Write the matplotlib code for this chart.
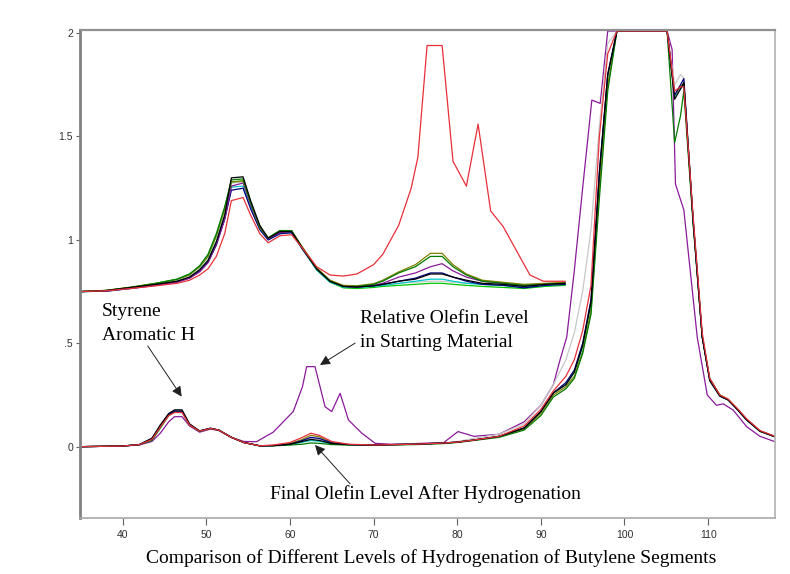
import numpy as np
import matplotlib
matplotlib.use('Agg')
import matplotlib.pyplot as plt

# lower traces (common x grid)
x_low = [35, 40, 42, 43.5, 44.5, 45.5, 46.2, 47.1, 48, 49.2,
         50.5, 51.5, 53, 54.5, 56.4, 58, 60, 61.5, 62.5, 63.5,
         65, 67, 70, 75, 78.5, 80, 82, 85, 88, 90,
         91.5, 93, 94, 95, 96, 97, 98, 99.1, 105.1, 106,
         106.7, 107.1, 108.2, 109.3, 110.2, 111.4, 112.4, 113.5, 114.6, 116.2,
         118]
black_low = [0, 0.003, 0.01, 0.04, 0.105, 0.16, 0.178, 0.178, 0.11, 0.076,
             0.089, 0.08, 0.045, 0.02, 0.004, 0.005, 0.012, 0.025, 0.035, 0.03,
             0.015, 0.01, 0.008, 0.012, 0.018, 0.022, 0.032, 0.05, 0.09, 0.17,
             0.26, 0.30, 0.36, 0.49, 0.70, 1.32, 1.80, 2.01, 2.01, 1.68,
             1.73, 1.76, 1.10, 0.53, 0.32, 0.245, 0.226, 0.18, 0.13, 0.075,
             0.048]
red_low = [0, 0.003, 0.01, 0.035, 0.095, 0.15, 0.165, 0.165, 0.105, 0.075,
           0.088, 0.08, 0.045, 0.02, 0.004, 0.008, 0.02, 0.045, 0.065, 0.055,
           0.025, 0.012, 0.008, 0.012, 0.018, 0.022, 0.032, 0.05, 0.1, 0.18,
           0.27, 0.34, 0.42, 0.56, 0.78, 1.5, 1.9, 2.01, 2.01, 1.72,
           1.74, 1.74, 1.12, 0.55, 0.33, 0.25, 0.23, 0.185, 0.135, 0.078,
           0.05]
green_low = [0, 0.003, 0.01, 0.03, 0.09, 0.15, 0.168, 0.168, 0.105, 0.074,
             0.088, 0.08, 0.045, 0.02, 0.004, 0.004, 0.008, 0.012, 0.018, 0.016,
             0.01, 0.008, 0.007, 0.01, 0.015, 0.02, 0.03, 0.045, 0.08, 0.15,
             0.24, 0.28, 0.33, 0.45, 0.64, 1.2, 1.72, 2.01, 2.01, 1.47,
             1.6, 1.72, 1.08, 0.53, 0.33, 0.25, 0.228, 0.18, 0.13, 0.074,
             0.048]
navy_low = [0, 0.003, 0.01, 0.04, 0.1, 0.155, 0.172, 0.172, 0.108, 0.076,
            0.089, 0.08, 0.045, 0.02, 0.004, 0.005, 0.012, 0.03, 0.045, 0.04,
            0.018, 0.01, 0.008, 0.012, 0.018, 0.022, 0.032, 0.05, 0.09, 0.17,
            0.26, 0.31, 0.37, 0.5, 0.71, 1.33, 1.8, 2.01, 2.01, 1.7,
            1.75, 1.78, 1.1, 0.53, 0.32, 0.245, 0.226, 0.18, 0.13, 0.075,
            0.048]
cyan_low = [0, 0.003, 0.01, 0.038, 0.1, 0.155, 0.17, 0.17, 0.106, 0.075,
            0.088, 0.08, 0.045, 0.02, 0.004, 0.005, 0.01, 0.022, 0.03, 0.026,
            0.014, 0.009, 0.008, 0.012, 0.018, 0.022, 0.032, 0.05, 0.09, 0.17,
            0.26, 0.30, 0.36, 0.48, 0.69, 1.3, 1.79, 2.01, 2.01, 1.69,
            1.73, 1.75, 1.1, 0.53, 0.32, 0.245, 0.226, 0.18, 0.13, 0.075,
            0.048]
gray_low = [0, 0.003, 0.01, 0.04, 0.1, 0.158, 0.175, 0.175, 0.108, 0.076,
            0.089, 0.08, 0.045, 0.02, 0.004, 0.006, 0.014, 0.03, 0.04, 0.035,
            0.016, 0.01, 0.008, 0.012, 0.018, 0.025, 0.04, 0.06, 0.11, 0.2,
            0.3, 0.42, 0.55, 0.75, 1.05, 1.55, 1.95, 2.01, 2.01, 1.75,
            1.8, 1.78, 1.12, 0.54, 0.32, 0.245, 0.226, 0.18, 0.13, 0.075,
            0.048]
olive_low = [0, 0.003, 0.01, 0.035, 0.095, 0.152, 0.17, 0.17, 0.106, 0.075,
             0.088, 0.08, 0.045, 0.02, 0.004, 0.006, 0.015, 0.035, 0.055, 0.048,
             0.02, 0.01, 0.008, 0.012, 0.017, 0.022, 0.032, 0.048, 0.085, 0.16,
             0.25, 0.29, 0.34, 0.46, 0.66, 1.25, 1.75, 2.01, 2.01, 1.7,
             1.74, 1.76, 1.1, 0.53, 0.325, 0.25, 0.228, 0.182, 0.132, 0.076,
             0.05]

# lower purple trace = starting material (olefin peaks)
x_start_low = [35, 40, 42, 43.5, 44.5, 45.5, 46.2, 47.1, 48, 49.2,
               50.5, 51.5, 53, 54.5, 56, 58, 60.4, 61.5, 62, 63,
               64.2, 65, 66, 67, 68.6, 70.2, 72, 75, 78.4, 80.1,
               82, 85, 88, 90, 91.5, 92.3, 93.1, 94, 95, 96.1,
               97.1, 98, 105.1, 105.7, 106.1, 107.1, 108.7, 109.9, 111, 111.8,
               113, 114.6, 116.2, 118]
start_low = [0, 0.003, 0.008, 0.025, 0.065, 0.12, 0.145, 0.145, 0.1, 0.07,
             0.085, 0.078, 0.045, 0.025, 0.024, 0.07, 0.17, 0.29, 0.387, 0.387,
             0.193, 0.17, 0.258, 0.129, 0.065, 0.016, 0.012, 0.015, 0.02, 0.073,
             0.05, 0.06, 0.12, 0.2, 0.3, 0.42, 0.53, 0.85, 1.25, 1.676,
             1.66, 2.01, 2.01, 1.92, 1.27, 1.145, 0.53, 0.25, 0.2, 0.207,
             0.177, 0.097, 0.05, 0.024]

# upper traces (offset copies, stop at ~93)
x_up = [35, 38, 41, 44, 46.5, 48, 49.2, 50.2, 51.2, 52.2,
        53, 54.4, 55.3, 56.4, 57.4, 58.8, 60.2, 61.5, 63.2, 64.8,
        66.4, 68, 70, 71.1, 73, 75, 76.8, 78.2, 79.5, 81.1,
        83, 85.5, 88, 90.5, 92.9]
black_up = [0.75, 0.755, 0.77, 0.785, 0.80, 0.82, 0.855, 0.90, 0.99, 1.12,
            1.30, 1.305, 1.19, 1.07, 1.008, 1.04, 1.04, 0.96, 0.86, 0.80,
            0.775, 0.772, 0.778, 0.785, 0.80, 0.81, 0.835, 0.835, 0.82, 0.805,
            0.79, 0.785, 0.775, 0.785, 0.79]
green_up = [0.75, 0.755, 0.77, 0.79, 0.81, 0.835, 0.875, 0.93, 1.03, 1.16,
            1.29, 1.295, 1.18, 1.065, 1.01, 1.045, 1.045, 0.96, 0.86, 0.80,
            0.775, 0.775, 0.785, 0.80, 0.84, 0.87, 0.92, 0.92, 0.87, 0.83,
            0.80, 0.79, 0.78, 0.785, 0.79]
olive_up = [0.75, 0.756, 0.772, 0.79, 0.808, 0.83, 0.87, 0.92, 1.02, 1.15,
            1.28, 1.285, 1.18, 1.06, 1.01, 1.045, 1.045, 0.965, 0.865, 0.805,
            0.78, 0.778, 0.788, 0.805, 0.845, 0.88, 0.935, 0.935, 0.88, 0.835,
            0.805, 0.795, 0.785, 0.79, 0.795]
purple_up = [0.75, 0.752, 0.765, 0.78, 0.795, 0.815, 0.845, 0.89, 0.98, 1.10,
             1.26, 1.275, 1.17, 1.06, 1.005, 1.035, 1.04, 0.96, 0.86, 0.80,
             0.775, 0.772, 0.78, 0.79, 0.82, 0.84, 0.87, 0.885, 0.85, 0.82,
             0.80, 0.79, 0.78, 0.785, 0.79]
cyan_up = [0.75, 0.752, 0.765, 0.782, 0.80, 0.82, 0.855, 0.90, 0.99, 1.11,
           1.255, 1.26, 1.16, 1.05, 1.0, 1.03, 1.035, 0.955, 0.855, 0.795,
           0.772, 0.77, 0.775, 0.78, 0.79, 0.80, 0.81, 0.81, 0.80, 0.79,
           0.785, 0.78, 0.772, 0.78, 0.785]
lime_up = [0.75, 0.755, 0.77, 0.79, 0.81, 0.835, 0.87, 0.92, 1.02, 1.15,
           1.28, 1.285, 1.175, 1.06, 1.005, 1.04, 1.04, 0.96, 0.855, 0.795,
           0.768, 0.765, 0.77, 0.775, 0.78, 0.785, 0.79, 0.79, 0.785, 0.78,
           0.775, 0.77, 0.765, 0.775, 0.78]
navy_up = [0.75, 0.752, 0.766, 0.782, 0.798, 0.815, 0.848, 0.89, 0.975, 1.10,
           1.24, 1.25, 1.15, 1.05, 1.0, 1.03, 1.035, 0.955, 0.86, 0.80,
           0.775, 0.772, 0.778, 0.785, 0.80, 0.815, 0.84, 0.84, 0.82, 0.80,
           0.785, 0.78, 0.768, 0.78, 0.785]
gray_up = [0.75, 0.755, 0.77, 0.785, 0.80, 0.822, 0.858, 0.905, 0.995, 1.125,
           1.275, 1.28, 1.17, 1.06, 1.0, 1.03, 1.035, 0.955, 0.855, 0.80,
           0.775, 0.772, 0.776, 0.78, 0.79, 0.795, 0.80, 0.80, 0.795, 0.79,
           0.785, 0.78, 0.772, 0.78, 0.785]

# upper red trace = starting material
x_start_up = [35, 38, 41, 44, 46.5, 48, 49.2, 50.2, 51.2, 52.2,
              53, 54.4, 55.3, 56.4, 57.4, 58.8, 60.2, 61.5, 63.2, 64.8,
              66.4, 68, 70, 71.1, 73, 74.5, 75.3, 76.4, 78.2, 79.5,
              81.1, 82.5, 84, 85.5, 88.7, 90.3, 92.9]
start_up = [0.75, 0.754, 0.765, 0.778, 0.79, 0.805, 0.83, 0.86, 0.92, 1.03,
            1.19, 1.205, 1.12, 1.03, 0.986, 1.02, 1.025, 0.96, 0.87, 0.83,
            0.825, 0.835, 0.88, 0.93, 1.07, 1.25, 1.40, 1.94, 1.94, 1.38,
            1.26, 1.56, 1.14, 1.064, 0.83, 0.80, 0.80]

y_ticks = [0, 0.5, 1, 1.5, 2]
y_ticklabels = ['0', '.5', '1', '1.5', '2']
x_ticks = [40, 50, 60, 70, 80, 90, 100, 110]

fig = plt.figure(figsize=(7.9, 5.74), dpi=100)
ax = fig.add_axes([80/790, 1-518/574, 695/790, 488/574])

lw = 0.9
up_series = [(gray_up, '#c8c8c8'), (lime_up, '#00c800'), (cyan_up, '#00c8c8'),
             (navy_up, '#000080'), (purple_up, '#8a1a9a'), (olive_up, '#808000'),
             (green_up, '#007a00'), (black_up, '#000000')]
for ys, c in up_series:
    ax.plot(x_up, ys, color=c, lw=lw)
ax.plot(x_start_up, start_up, color='#e8303a', lw=lw)

low_series = [(gray_low, '#c8c8c8'), (cyan_low, '#00c8c8'), (olive_low, '#808000'),
              (green_low, '#007a00'), (navy_low, '#000080'), (black_low, '#000000')]
ax.plot(x_start_low, start_low, color='#8a1a9a', lw=lw)
for ys, c in low_series:
    ax.plot(x_low, ys, color=c, lw=lw)
ax.plot(x_low, red_low, color='#e8303a', lw=lw)

ax.set_xlim(34.9, 118.0)
ax.set_ylim(-0.345, 2.015)
ax.set_xticks(x_ticks)
ax.set_yticks(y_ticks)
ax.set_yticklabels(y_ticklabels)
ax.tick_params(axis='both', direction='out', length=3, width=0.8, color='#606060',
               labelsize=7.5, labelcolor='#303030', pad=2)
ax.tick_params(axis='x', length=5, pad=4)
for lab in ax.get_xticklabels() + ax.get_yticklabels():
    lab.set_family('Liberation Sans')

ax.spines['left'].set_color('#808080')
ax.spines['left'].set_linewidth(2)
ax.spines['top'].set_color('#909090')
ax.spines['top'].set_linewidth(1.6)
ax.spines['bottom'].set_color('#a8a8a8')
ax.spines['bottom'].set_linewidth(1.2)
ax.spines['right'].set_color('#b0b0b0')
ax.spines['right'].set_linewidth(1.2)

serif = 'Liberation Serif'
fs = 14
ax.text(37.5, 0.632, 'Styrene', family=serif, fontsize=fs, va='baseline')
ax.text(37.5, 0.516, 'Aromatic H', family=serif, fontsize=fs, va='baseline')
ax.text(68.4, 0.598, 'Relative Olefin Level', family=serif, fontsize=fs, va='baseline')
ax.text(68.4, 0.483, 'in Starting Material', family=serif, fontsize=fs, va='baseline')
ax.text(57.6, -0.253, 'Final Olefin Level After Hydrogenation', family=serif,
        fontsize=fs, va='baseline')
fig.text(431/790, 1-563/574, 'Comparison of Different Levels of Hydrogenation of Butylene Segments',
         family=serif, fontsize=fs, ha='center', va='baseline')

arrow = dict(arrowstyle='-|>,head_length=0.5,head_width=0.25', color='#202020',
             lw=0.7, mutation_scale=12, shrinkA=0, shrinkB=0)
ax.annotate('', xy=(47.06, 0.242), xytext=(43.0, 0.487), arrowprops=arrow)
ax.annotate('', xy=(63.6, 0.395), xytext=(67.8, 0.501), arrowprops=arrow)
ax.annotate('', xy=(63.0, 0.008), xytext=(67.2, -0.18), arrowprops=arrow)

plt.savefig('out.png', dpi=100)
